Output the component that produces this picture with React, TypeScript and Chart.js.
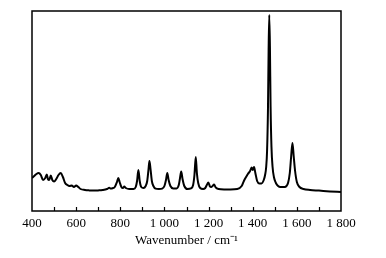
import React, { useEffect, useRef } from "react";
import { Chart, registerables } from "chart.js";

Chart.register(...registerables);

const wavenumbers = [
  400, 410, 420, 430, 440, 450, 460, 467, 472, 478, 485, 492, 500, 510, 520, 530, 540, 550, 560, 570,
  580, 590, 600, 610, 620, 640, 660, 680, 700, 720, 740, 750, 757, 765, 775, 785, 791, 797, 805, 812,
  818, 825, 840, 860, 870, 876, 882, 888, 895, 905, 915, 922, 928, 932, 937, 943, 950, 960, 975, 990,
  1000, 1007, 1013, 1019, 1027, 1040, 1055, 1065, 1070, 1076, 1082, 1090, 1105, 1120, 1130, 1136, 1142, 1147, 1153, 1162,
  1175, 1185, 1192, 1199, 1206, 1212, 1218, 1225, 1232, 1245, 1270, 1300, 1330, 1350, 1360, 1370, 1378, 1388, 1395, 1400,
  1406, 1412, 1420, 1430, 1440, 1450, 1456, 1461, 1465, 1469, 1472, 1475, 1478, 1481, 1485, 1490, 1496, 1505, 1515, 1525,
  1545, 1560, 1568, 1574, 1580, 1586, 1592, 1600, 1612, 1630, 1660, 1700, 1750, 1800,
];

const intensity = [
  16.5, 17.5, 18.5, 19, 18, 15.5, 16.5, 18.3, 16, 15.5, 17.8, 15.5, 14.7, 16, 18, 19, 17, 14, 13, 12.5,
  12.8, 12, 12.8, 12, 11, 10.5, 10.3, 10.2, 10.3, 10.5, 11, 11.6, 11.2, 11.4, 12, 14.5, 16.5, 14.5, 12, 11.5,
  12.2, 11.5, 11, 11, 12, 15, 20.5, 15, 12, 11.5, 12.5, 15, 21, 25, 21, 15, 12.5, 11.2, 11, 11.2,
  12.5, 15.5, 19, 15.5, 12.5, 11.3, 11.3, 13, 16, 19.7, 16, 12.5, 11, 11.3, 13, 18, 27, 19, 14, 11.5,
  11, 11.5, 13, 14.2, 12.3, 12, 12.5, 13.3, 11.8, 11, 10.8, 10.8, 11, 12.5, 15, 17, 18.5, 20, 21.7, 20.5,
  22, 19, 15, 13.8, 13.8, 15.5, 18, 22, 30, 50, 80, 98, 82, 52, 32, 22, 17, 14, 12.5, 12,
  12, 14, 19, 27, 34, 27, 20, 14.5, 12, 11, 10.5, 10.2, 9.8, 9.5,
];

const xMin = 400;
const xMax = 1800;
const tickStep = 100;
const labelStep = 200;
const axisTitle = "Wavenumber / cm\u207B\u00B9";

const fmt = (v: number) => {
  const s = String(v);
  return s.length > 3 ? s.slice(0, s.length - 3) + " " + s.slice(s.length - 3) : s;
};

const framePlugin = {
  id: "frame",
  afterDraw(chart: any) {
    const { ctx, chartArea } = chart;
    const xs = chart.scales.x;
    ctx.save();
    ctx.strokeStyle = "#000";
    ctx.lineWidth = 1.5;
    ctx.strokeRect(chartArea.left, chartArea.top, chartArea.right - chartArea.left, chartArea.bottom - chartArea.top);
    ctx.lineWidth = 1.2;
    for (let v = xMin + tickStep; v < xMax; v += tickStep) {
      const px = Math.round(xs.getPixelForValue(v)) + 0.5;
      ctx.beginPath();
      ctx.moveTo(px, chartArea.bottom);
      ctx.lineTo(px, chartArea.bottom - 4);
      ctx.stroke();
    }
    ctx.restore();
  },
};

export default function App() {
  const ref = useRef<HTMLCanvasElement | null>(null);
  useEffect(() => {
    document.body.style.margin = "0";
    const data = wavenumbers.map((x, i) => ({ x, y: intensity[i] }));
    const chart = new Chart(ref.current as HTMLCanvasElement, {
      type: "line",
      data: {
        datasets: [
          {
            data,
            borderColor: "#000",
            borderWidth: 2,
            pointRadius: 0,
            fill: false,
            cubicInterpolationMode: "monotone",
          },
        ],
      },
      options: {
        animation: false,
        responsive: false,
        devicePixelRatio: 1,
        layout: { padding: { left: 32, right: 45, top: 11, bottom: 0 } },
        plugins: { legend: { display: false }, tooltip: { enabled: false } },
        scales: {
          x: {
            type: "linear",
            min: xMin,
            max: xMax,
            border: { display: false },
            grid: { display: false, drawTicks: false },
            ticks: {
              stepSize: tickStep,
              autoSkip: false,
              maxRotation: 0,
              padding: 5,
              color: "#000",
              font: { family: "'Liberation Serif', 'Times New Roman', serif", size: 13 },
              callback: (v: any) => (Number(v) % labelStep === 0 ? fmt(Number(v)) : ""),
            },
            title: {
              display: true,
              text: axisTitle,
              color: "#000",
              font: { family: "'Liberation Serif', 'Times New Roman', serif", size: 13 },
              padding: { top: 4, bottom: 10 },
            },
            afterFit: (scale: any) => {
              scale.height = 47;
            },
          },
          y: { display: false, min: 0, max: 100 },
        },
      },
      plugins: [framePlugin],
    } as any);
    return () => chart.destroy();
  }, []);
  return (
    <div style={{ width: 386, height: 258 }}>
      <canvas ref={ref} width={386} height={258} style={{ display: "block" }} />
    </div>
  );
}
